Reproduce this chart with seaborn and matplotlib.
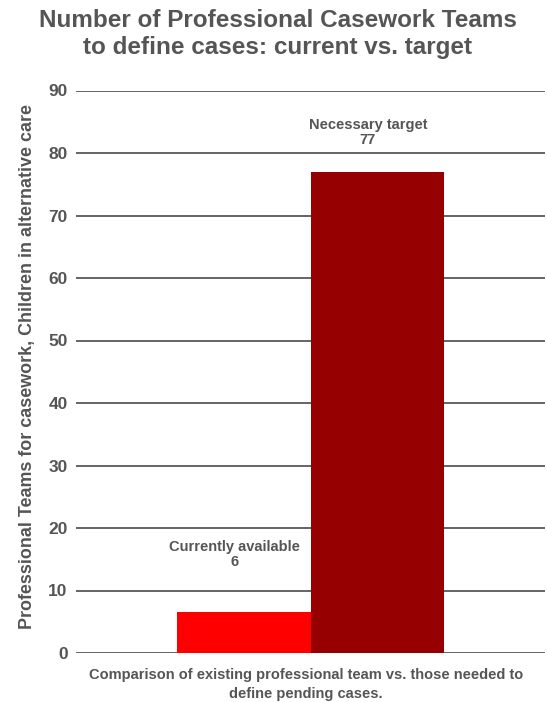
import matplotlib
matplotlib.use("Agg")
import matplotlib.pyplot as plt
import seaborn as sns
import pandas as pd

categories = ["Currently available", "Necessary target"]
values = [6.6, 77]
value_labels = ["6", "77"]
group = ["Comparison"]
colors = ["#FF0000", "#960000"]

sns.set_theme(style="white")
plt.rcParams['font.family'] = ['Liberation Sans', 'DejaVu Sans']

df = pd.DataFrame({"group": group * len(categories), "status": categories, "value": values})

fig = plt.figure(figsize=(5.47, 7.02), dpi=100)
ax = fig.add_axes([76/547, 1 - 653/702, 469/547, (653 - 90.5)/702])

sns.barplot(data=df, x="group", y="value", hue="status", palette=colors,
            width=0.57, saturation=1, ax=ax, legend=False, linewidth=0)

ax.set_xlim(-0.5, 0.5)
ax.set_ylim(0, 90)
ax.set_yticks(range(0, 91, 10))
ax.set_axisbelow(True)
ax.yaxis.grid(True, color="#3a3a3a", linewidth=1.1)
ax.xaxis.grid(False)
for s in ax.spines.values():
    s.set_visible(False)
ax.set_xticks([])
ax.tick_params(axis="y", length=0, pad=6, labelsize=12.5, labelcolor="#555555")
for t in ax.get_yticklabels():
    t.set_fontweight("bold")

ax.set_ylabel("Professional Teams for casework, Children in alternative care",
              fontsize=12.9, fontweight="bold", color="#555555", labelpad=9, y=0.51)
ax.set_xlabel("Comparison of existing professional team vs. those needed to\ndefine pending cases.",
              fontsize=10.5, fontweight="bold", color="#555555", labelpad=11,
              linespacing=1.45, x=0.49)

offsets = [6.8, 3.9]
for bar, cat, lab, off in zip(ax.patches, categories, value_labels, offsets):
    cx = bar.get_x() + bar.get_width() / 2 - 0.02
    ax.text(cx, bar.get_height() + off, f"{cat}\n{lab}", ha="center", va="bottom",
            fontsize=10.5, fontweight="bold", color="#555555", linespacing=1.15)

fig.suptitle("Number of Professional Casework Teams\nto define cases: current vs. target",
             x=0.508, y=0.987, fontsize=17.5, fontweight="bold", color="#555555",
             linespacing=1.2)

fig.savefig("out.png", dpi=100)
